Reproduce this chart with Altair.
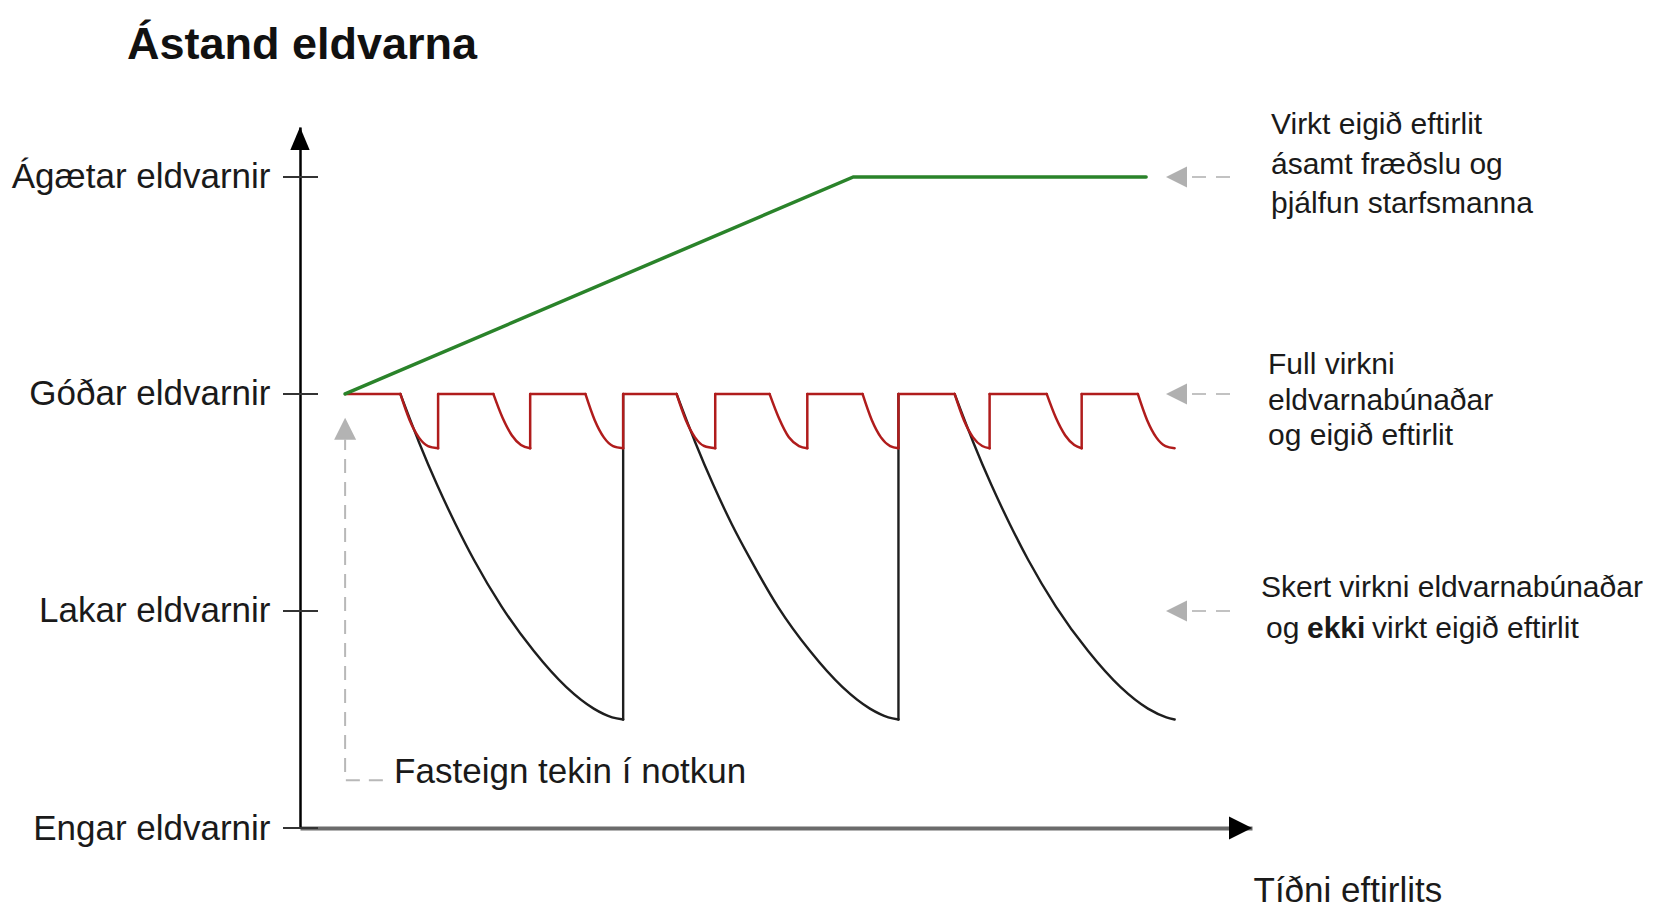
import json
import altair as alt
import pandas as pd

# ---------------- data ----------------
title_text = "Ástand eldvarna"
level_values = [0, 1, 2, 3]
level_names = ["Engar eldvarnir", "Lakar eldvarnir", "Góðar eldvarnir", "Ágætar eldvarnir"]
x_title = "Tíðni eftirlits"
start_label = "Fasteign tekin í notkun"

# green: active self-inspection with training
green_t = [0.00, 5.52, 8.70]
green_level = [2.00, 3.00, 3.00]

# red: full function + self inspection (flat tops at level 2, small dips)
red_flats = [(0.00, 0.60), (1.01, 1.61), (2.01, 2.61), (3.02, 3.60), (4.02, 4.61),
             (5.02, 5.62), (6.01, 6.62), (7.00, 7.62), (8.00, 8.61)]
red_drops = [
    [(0.60, 2.00), (0.70, 1.88), (0.80, 1.80), (0.90, 1.76), (1.01, 1.75)],
    [(1.61, 2.00), (1.71, 1.89), (1.81, 1.81), (1.91, 1.765), (2.01, 1.75)],
    [(2.61, 2.00), (2.71, 1.88), (2.81, 1.80), (2.91, 1.76), (3.02, 1.75)],
    [(3.60, 2.00), (3.70, 1.88), (3.80, 1.80), (3.90, 1.76), (4.02, 1.75)],
    [(4.61, 2.00), (4.71, 1.89), (4.82, 1.80), (4.93, 1.76), (5.02, 1.75)],
    [(5.62, 2.00), (5.72, 1.88), (5.82, 1.80), (5.92, 1.76), (6.01, 1.75)],
    [(6.62, 2.00), (6.72, 1.88), (6.82, 1.80), (6.92, 1.76), (7.00, 1.75)],
    [(7.62, 2.00), (7.72, 1.89), (7.82, 1.81), (7.92, 1.765), (8.00, 1.75)],
    [(8.61, 2.00), (8.71, 1.88), (8.81, 1.80), (8.91, 1.76), (9.01, 1.75)],
]
red_top = 2.00

# black: reduced function, no self inspection
black_curves = [
    [(0.60, 2.00), (0.80, 1.78), (1.00, 1.58), (1.20, 1.40), (1.40, 1.235), (1.70, 1.02),
     (2.05, 0.815), (2.40, 0.65), (2.70, 0.55), (2.90, 0.51), (3.02, 0.50)],
    [(3.60, 2.00), (3.80, 1.78), (4.00, 1.58), (4.20, 1.40), (4.40, 1.24), (4.70, 1.02),
     (5.05, 0.815), (5.40, 0.65), (5.70, 0.55), (5.90, 0.51), (6.01, 0.50)],
    [(6.62, 2.00), (6.82, 1.78), (7.02, 1.58), (7.22, 1.40), (7.42, 1.235), (7.72, 1.02),
     (8.07, 0.815), (8.42, 0.65), (8.72, 0.55), (8.92, 0.51), (9.01, 0.50)],
]
black_reset_to = 2.00

# start marker (dashed grey arrow)
marker_path_t = [0.41, 0.00, 0.00]
marker_path_level = [0.22, 0.22, 1.79]
marker_tip = (0.00, 1.89)

# right-hand annotations
annot_levels = [3, 2, 1]
annot1 = ["Virkt eigið eftirlit", "ásamt fræðslu og", "þjálfun starfsmanna"]
annot2 = ["Full virkni", "eldvarnabúnaðar", "og eigið eftirlit"]
annot3_line1 = "Skert virkni eldvarnabúnaðar"
annot3_line2 = ["og", "ekki", "virkt eigið eftirlit"]

t_min, t_max = -0.49, 9.85
y_top = 3.23

# ---------------- styling ----------------
FONT = "Liberation Sans"
TXT = "#1a1a1a"
W, H = 952, 701

xs = alt.Scale(domain=[t_min, t_max], nice=False, zero=False)
ys = alt.Scale(domain=[0, y_top], nice=False, zero=False)

label_expr = json.dumps(level_names) + "[datum.value]"

x_axis = alt.Axis(title=x_title, ticks=False, labels=False, grid=False,
                  domainColor="#6b6b6b", domainWidth=4,
                  titleX=953, titleY=62, titleAlign="left", titleAnchor="start",
                  titleBaseline="middle", titleAngle=0, titleFont=FONT,
                  titleFontSize=35, titleFontWeight="normal", titleColor=TXT,
                  titleLimit=0)
y_axis = alt.Axis(title=None, values=level_values, labelExpr=label_expr,
                  ticks=False, grid=False, domainColor="#000000", domainWidth=2.5,
                  labelFont=FONT, labelFontSize=35, labelColor=TXT, labelPadding=30,
                  labelLimit=0)


def X(field="t"):
    return alt.X(f"{field}:Q", scale=xs, axis=x_axis)


def Y(field="level"):
    return alt.Y(f"{field}:Q", scale=ys, axis=y_axis)


def seg_frame(segments):
    rows = []
    for s, pts in enumerate(segments):
        for i, (t, lv) in enumerate(pts):
            rows.append({"seg": s, "i": i, "t": t, "level": lv})
    return pd.DataFrame(rows)


# red segments: flats, drops, vertical resets
red_segs = []
for k, (a, b) in enumerate(red_flats):
    red_segs.append([(a, red_top), (b, red_top)])
    drop = red_drops[k]
    red_segs.append(drop)
    if k < len(red_drops) - 1:
        t_end, lv_end = drop[-1]
        red_segs.append([(t_end, lv_end), (t_end, red_top)])

black_segs = []
for k, c in enumerate(black_curves):
    black_segs.append(c)
    if k < len(black_curves) - 1:
        t_end, lv_end = c[-1]
        black_segs.append([(t_end, lv_end), (t_end, black_reset_to)])

red_df = seg_frame(red_segs)
black_df = seg_frame(black_segs)
green_df = pd.DataFrame({"t": green_t, "level": green_level, "i": range(len(green_t))})
levels_df = pd.DataFrame({"level": level_values})
marker_df = pd.DataFrame({"t": marker_path_t, "level": marker_path_level,
                          "i": range(len(marker_path_t))})
tip_df = pd.DataFrame({"t": [marker_tip[0]], "level": [marker_tip[1]]})
annot_df = pd.DataFrame({"level": annot_levels})

layers = []

# tick marks crossing the y axis
layers.append(alt.Chart(levels_df).mark_rule(color="#333333", strokeWidth=2).encode(
    y=Y(), x=alt.value(-17), x2=alt.value(18)))

# black curves
layers.append(alt.Chart(black_df).mark_line(
    color="#1e1e1e", strokeWidth=2.4, interpolate="monotone",
    strokeCap="round", strokeJoin="round").encode(
    x=X(), y=Y(), detail="seg:N", order="i:Q"))

# red curves
layers.append(alt.Chart(red_df).mark_line(
    color="#b01c1c", strokeWidth=2.5, interpolate="monotone",
    strokeCap="round", strokeJoin="round").encode(
    x=X(), y=Y(), detail="seg:N", order="i:Q"))

# green line
layers.append(alt.Chart(green_df).mark_line(
    color="#2a832a", strokeWidth=3.5, strokeCap="round").encode(
    x=X(), y=Y(), order="i:Q"))

# dashed start marker
layers.append(alt.Chart(marker_df).mark_line(
    color="#b8b8b8", strokeWidth=2, strokeDash=[14, 9]).encode(
    x=X(), y=Y(), order="i:Q"))
layers.append(alt.Chart(tip_df).mark_point(
    shape="M0,0L-0.5,1L0.5,1Z", size=1936, filled=True, opacity=1,
    color="#b3b3b3", strokeWidth=0).encode(x=X(), y=Y()))

# axis arrow heads
layers.append(alt.Chart(pd.DataFrame({"t": [t_min], "level": [y_top]})).mark_point(
    shape="M0,0L-0.42,1L0.42,1Z", size=2116, filled=True, opacity=1,
    color="#000000", strokeWidth=0).encode(x=X(), y=Y()))
layers.append(alt.Chart(pd.DataFrame({"t": [t_max], "level": [0]})).mark_point(
    shape="M0,0L-1,-0.5L-1,0.5Z", size=2116, filled=True, opacity=1,
    color="#000000", strokeWidth=0).encode(x=X(), y=Y()))

# grey annotation arrows on the right
layers.append(alt.Chart(annot_df).mark_point(
    shape="M0,0L1,-0.5L1,0.5Z", size=1764, filled=True, opacity=1,
    color="#b0b0b0", strokeWidth=0).encode(x=alt.value(866), y=Y()))
layers.append(alt.Chart(annot_df).mark_rule(
    color="#c2c2c2", strokeWidth=2, strokeDash=[14, 10]).encode(
    x=alt.value(892), x2=alt.value(932), y=Y()))


def text_at_level(text, level, x_px, dy, size=30, weight="normal"):
    d = pd.DataFrame({"txt": [text], "level": [level]})
    return alt.Chart(d).mark_text(
        font=FONT, fontSize=size, fontWeight=weight, align="left",
        baseline="middle", dy=dy, color=TXT).encode(
        text="txt:N", x=alt.value(x_px), y=Y())


for line, dy in zip(annot1, [-52, -12, 27]):
    layers.append(text_at_level(line, annot_levels[0], 971, dy))
for line, dy in zip(annot2, [-29, 7, 42]):
    layers.append(text_at_level(line, annot_levels[1], 968, dy))
layers.append(text_at_level(annot3_line1, annot_levels[2], 961, -23))
for part, w, xp in zip(annot3_line2, ["normal", "bold", "normal"], [966, 1007, 1072]):
    layers.append(text_at_level(part, annot_levels[2], xp, 18, weight=w))

# start label
start_df = pd.DataFrame({"txt": [start_label], "t": [marker_path_t[1]],
                         "level": [marker_path_level[0]]})
layers.append(alt.Chart(start_df).mark_text(
    font=FONT, fontSize=35, align="left", baseline="middle", dx=49, dy=-8,
    color=TXT).encode(text="txt:N", x=X(), y=Y()))

# title
layers.append(alt.Chart(pd.DataFrame({"txt": [title_text]})).mark_text(
    font=FONT, fontSize=45, fontWeight="bold", align="left",
    baseline="alphabetic", color="#111111").encode(
    text="txt:N", x=alt.value(-173), y=alt.value(-68)))

chart = alt.layer(*layers).properties(
    width=W, height=H,
    autosize=alt.AutoSizeParams(type="none"),
    padding={"left": 292, "top": 119, "right": 401, "bottom": 80},
    background="white",
).configure_view(stroke=None)

chart.save("out.html", embed_options={"renderer": "svg", "actions": False})
